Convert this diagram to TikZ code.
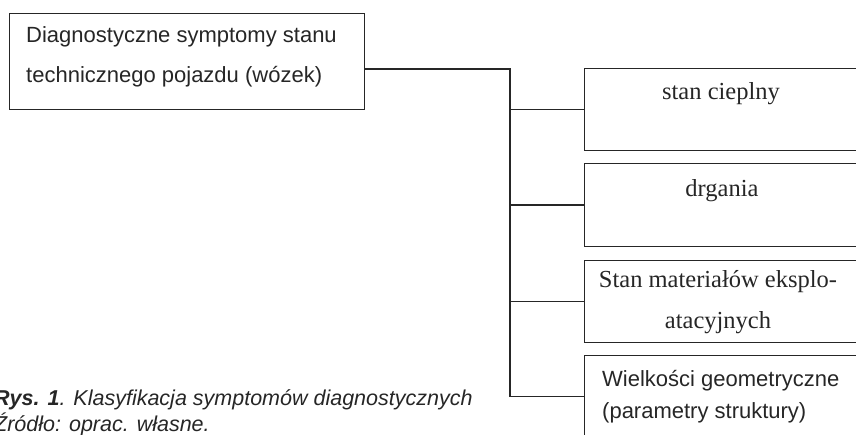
\documentclass[tikz,border=0pt]{standalone}
\usepackage{fontspec}
\setmainfont{Liberation Serif}
\newfontfamily\arial{Liberation Sans}
\usetikzlibrary{calc}
\definecolor{ink}{gray}{0.15}
\tikzset{box/.style={draw=ink,line width=1.3pt,anchor=north west,minimum width=276pt,inner sep=0pt},link/.style={draw=ink,line width=1.3pt},
sans/.style={font=\arial\fontsize{22}{26}\selectfont,text=ink,inner sep=0pt,anchor=base west},
serif/.style={font=\fontsize{24.5}{28}\selectfont,text=ink,inner sep=0pt,anchor=base},
podpis/.style={font=\arial\itshape\fontsize{21.5}{26}\selectfont,text=ink,inner sep=0pt,anchor=base west}}

\begin{document}
\begin{tikzpicture}[x=1pt,y=-1pt]
\useasboundingbox (0,0) rectangle (856,435);
% glowny prostokat
\node[box,minimum width=355pt,minimum height=96pt] (glowny) at (9,13) {};
\node[sans] (g1) at (26,43) {Diagnostyczne symptomy stanu};\node[sans] (g2) at (26,83) {technicznego pojazdu (wózek)};
% symptomy
\foreach \n/\t/\h in {cieplny/68/82,drgania/163/83,materialy/260/82,geometria/355/82}{\node[box,minimum height=\h pt] (\n) at (584,\t) {};}
\node[serif] (t1) at (721,100) {stan cieplny};\node[serif] (t2) at (722,197) {drgania};
\node[serif] (t3a) at (718,288) {Stan materiałów eksplo-};\node[serif] (t3b) at (718,328) {atacyjnych};
\node[sans] (t4a) at (602,386) {Wielkości geometryczne};\node[sans] (t4b) at (602,418) {(parametry struktury)};
% polaczenia
\coordinate (pien) at (510,69);
\draw[link] (glowny.east |- pien) -- (pien) -- (pien |- geometria.west);
\foreach \n in {cieplny,drgania,materialy,geometria}{\draw[link] (pien |- \n.west) -- (\n.west);}
% podpis
\node[podpis] (rys) at (-6,405) {\bfseries Rys. 1\mdseries. Klasyfikacja symptomów diagnostycznych};
\node[podpis] (zrodlo) at (-6,431) {Źródło: oprac. własne.};
\end{tikzpicture}
\end{document}
